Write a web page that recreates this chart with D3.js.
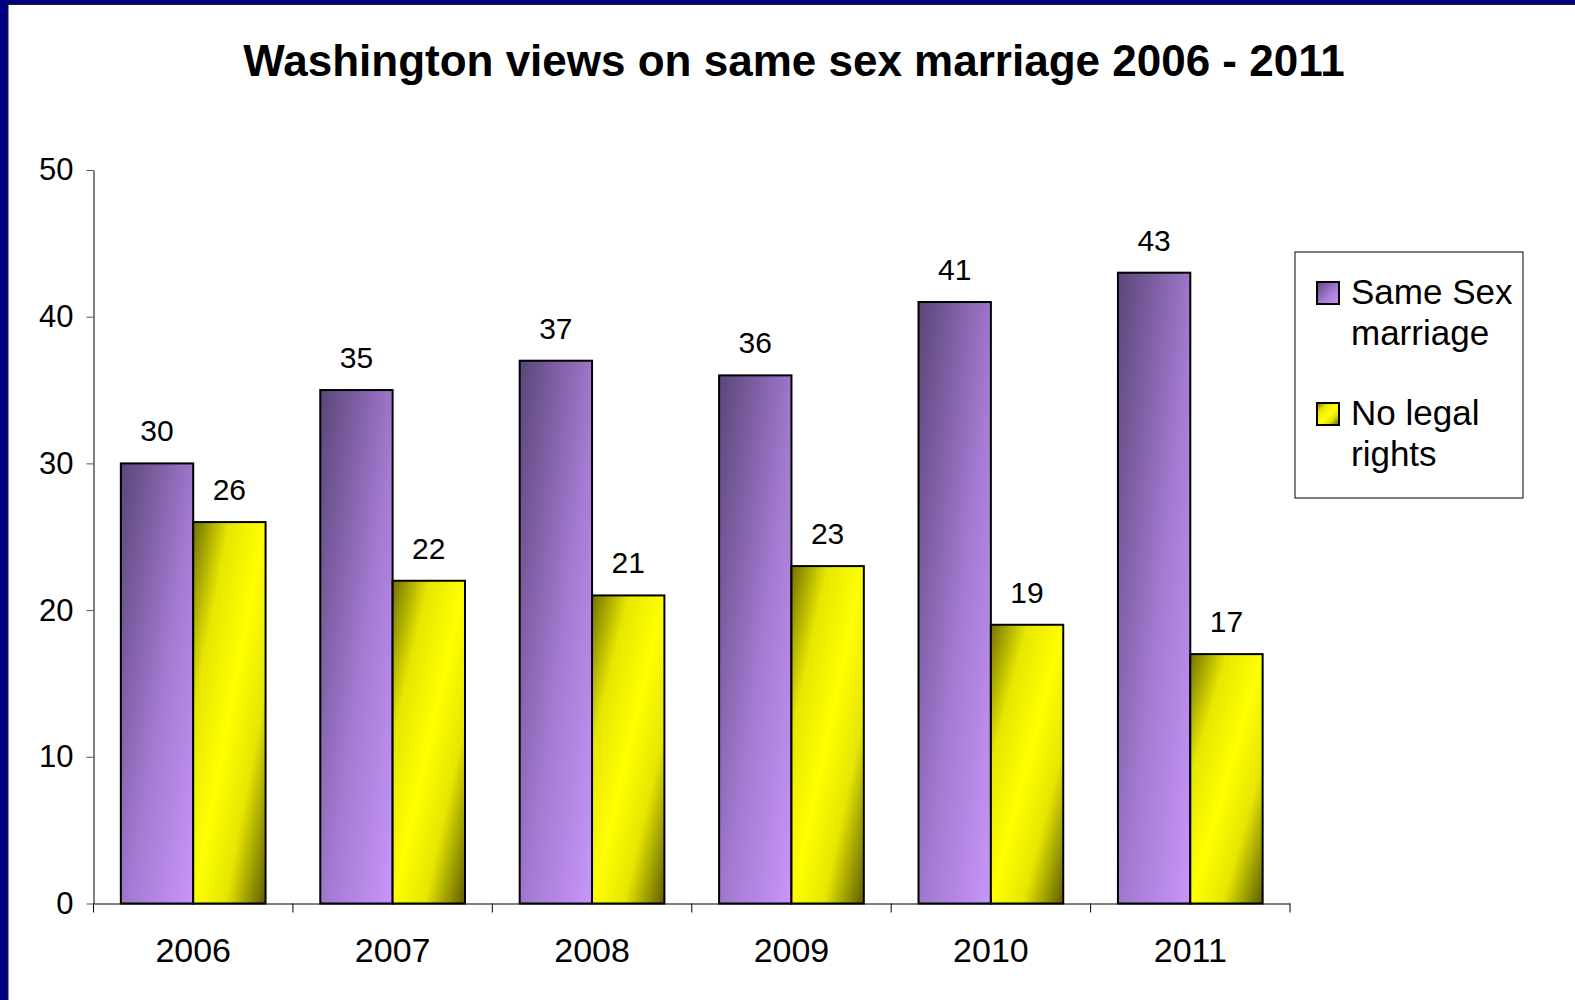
<!DOCTYPE html>
<html>
<head>
<meta charset="utf-8">
<script src="https://cdn.jsdelivr.net/npm/d3@7"></script>
<style>
  html, body { margin: 0; padding: 0; overflow: hidden; background: #fff; }
  svg { display: block; }
  text { font-family: Arial, "Liberation Sans", sans-serif; }
</style>
</head>
<body>
<svg id="main-svg"></svg>
<script>
const years = ["2006", "2007", "2008", "2009", "2010", "2011"];
const seriesNames = ["Same Sex marriage", "No legal rights"];
const sameSex = [30, 35, 37, 36, 41, 43];
const noRights = [26, 22, 21, 23, 19, 17];
const yTicks = [0, 10, 20, 30, 40, 50];
const legendLines = [["Same Sex", "marriage"], ["No legal", "rights"]];

const width = 1575, height = 1000;
const svg = d3.select("#main-svg").attr("width", width).attr("height", height);

// gradients for the bars
const defs = svg.append("defs");
const gPurple = defs.append("linearGradient")
    .attr("id", "grad-purple")
    .attr("x1", 0).attr("y1", 0).attr("x2", 1).attr("y2", 1);
gPurple.append("stop").attr("offset", "0%").attr("stop-color", "#5a4678");
gPurple.append("stop").attr("offset", "55%").attr("stop-color", "#a47ad2");
gPurple.append("stop").attr("offset", "100%").attr("stop-color", "#c896fa");

const gYellow = defs.append("linearGradient")
    .attr("id", "grad-yellow")
    .attr("x1", 0).attr("y1", 0).attr("x2", 1).attr("y2", 1);
gYellow.append("stop").attr("offset", "0%").attr("stop-color", "#707000");
gYellow.append("stop").attr("offset", "25%").attr("stop-color", "#e6e600");
gYellow.append("stop").attr("offset", "50%").attr("stop-color", "#ffff00");
gYellow.append("stop").attr("offset", "72%").attr("stop-color", "#e6e600");
gYellow.append("stop").attr("offset", "100%").attr("stop-color", "#5c5c00");

const fills = ["url(#grad-purple)", "url(#grad-yellow)"];

// slide frame (navy band on the left and top)
svg.append("rect").attr("x", 0).attr("y", 0).attr("width", 8).attr("height", height).attr("fill", "#000080");
svg.append("rect").attr("x", 0).attr("y", 0).attr("width", width).attr("height", 4).attr("fill", "#000080");
svg.append("line").attr("x1", 8).attr("x2", 8).attr("y1", 4).attr("y2", height).attr("stroke", "#222").attr("stroke-width", 1);
svg.append("line").attr("x1", 8).attr("x2", width).attr("y1", 4.5).attr("y2", 4.5).attr("stroke", "#222").attr("stroke-width", 1);

// title
svg.append("text")
    .attr("x", 794)
    .attr("y", 76)
    .attr("text-anchor", "middle")
    .attr("font-size", 44)
    .attr("font-weight", "bold")
    .text("Washington views on same sex marriage 2006 - 2011");

// scales
const escalaX = d3.scaleBand()
    .domain(years)
    .range([93.5, 1290])
    .padding(0);
const escalaSerie = d3.scaleBand()
    .domain(seriesNames)
    .range([0, escalaX.bandwidth()])
    .paddingInner(0)
    .paddingOuter(0.378);
const escalaY = d3.scaleLinear()
    .domain([0, 50])
    .range([903.5, 170]);

const datos = years.map((y, i) => ({ year: y, values: [sameSex[i], noRights[i]] }));

// bars
const grupos = svg.selectAll("g.year")
    .data(datos)
    .join("g")
    .attr("class", "year")
    .attr("transform", d => `translate(${escalaX(d.year)},0)`);

grupos.selectAll("rect")
    .data(d => d.values.map((v, j) => ({ serie: seriesNames[j], value: v, idx: j })))
    .join("rect")
    .attr("x", d => escalaSerie(d.serie))
    .attr("y", d => escalaY(d.value))
    .attr("width", escalaSerie.bandwidth())
    .attr("height", d => escalaY(0) - escalaY(d.value))
    .attr("fill", d => fills[d.idx])
    .attr("stroke", "#000")
    .attr("stroke-width", 2);

// data labels
grupos.selectAll("text.label")
    .data(d => d.values.map((v, j) => ({ serie: seriesNames[j], value: v })))
    .join("text")
    .attr("class", "label")
    .attr("x", d => escalaSerie(d.serie) + escalaSerie.bandwidth() / 2)
    .attr("y", d => escalaY(d.value) - 22)
    .attr("text-anchor", "middle")
    .attr("font-size", 30)
    .text(d => d.value);

// y axis
const ejeY = d3.axisLeft(escalaY)
    .tickValues(yTicks)
    .tickSize(7)
    .tickSizeOuter(0)
    .tickPadding(13);
const gY = svg.append("g")
    .attr("transform", "translate(93.5,0)")
    .call(ejeY);
gY.select(".domain").attr("stroke", "#000");
gY.selectAll(".tick line").attr("stroke", "#555");
gY.selectAll(".tick text")
    .attr("font-size", 31)
    .attr("fill", "#000")
    .attr("font-family", "Arial, 'Liberation Sans', sans-serif");

// x axis with ticks between categories
const ejeX = d3.axisBottom(escalaX)
    .tickSize(0)
    .tickPadding(34);
const gX = svg.append("g")
    .attr("transform", "translate(0,903.5)")
    .call(ejeX);
gX.select(".domain").attr("stroke", "#000");
gX.selectAll(".tick text")
    .attr("font-size", 34)
    .attr("fill", "#000")
    .attr("font-family", "Arial, 'Liberation Sans', sans-serif");
gX.selectAll("line.sep")
    .data(years.map(y => escalaX(y)).concat([escalaX.range()[1]]))
    .join("line")
    .attr("class", "sep")
    .attr("x1", d => d).attr("x2", d => d)
    .attr("y1", 0).attr("y2", 9)
    .attr("stroke", "#000");

// legend
const legend = svg.append("g").attr("transform", "translate(1295,252)");
legend.append("rect")
    .attr("width", 228)
    .attr("height", 246)
    .attr("fill", "#fff")
    .attr("stroke", "#000")
    .attr("stroke-width", 1);
const items = legend.selectAll("g.item")
    .data(legendLines)
    .join("g")
    .attr("class", "item")
    .attr("transform", (d, i) => `translate(0,${i * 121})`);
items.append("rect")
    .attr("x", 22).attr("y", 30)
    .attr("width", 22).attr("height", 22)
    .attr("fill", (d, i) => fills[i])
    .attr("stroke", "#000")
    .attr("stroke-width", 2);
items.selectAll("text")
    .data(d => d)
    .join("text")
    .attr("x", 56)
    .attr("y", (d, k) => 52 + k * 41)
    .attr("font-size", 35)
    .text(d => d);
</script>
</body>
</html>
